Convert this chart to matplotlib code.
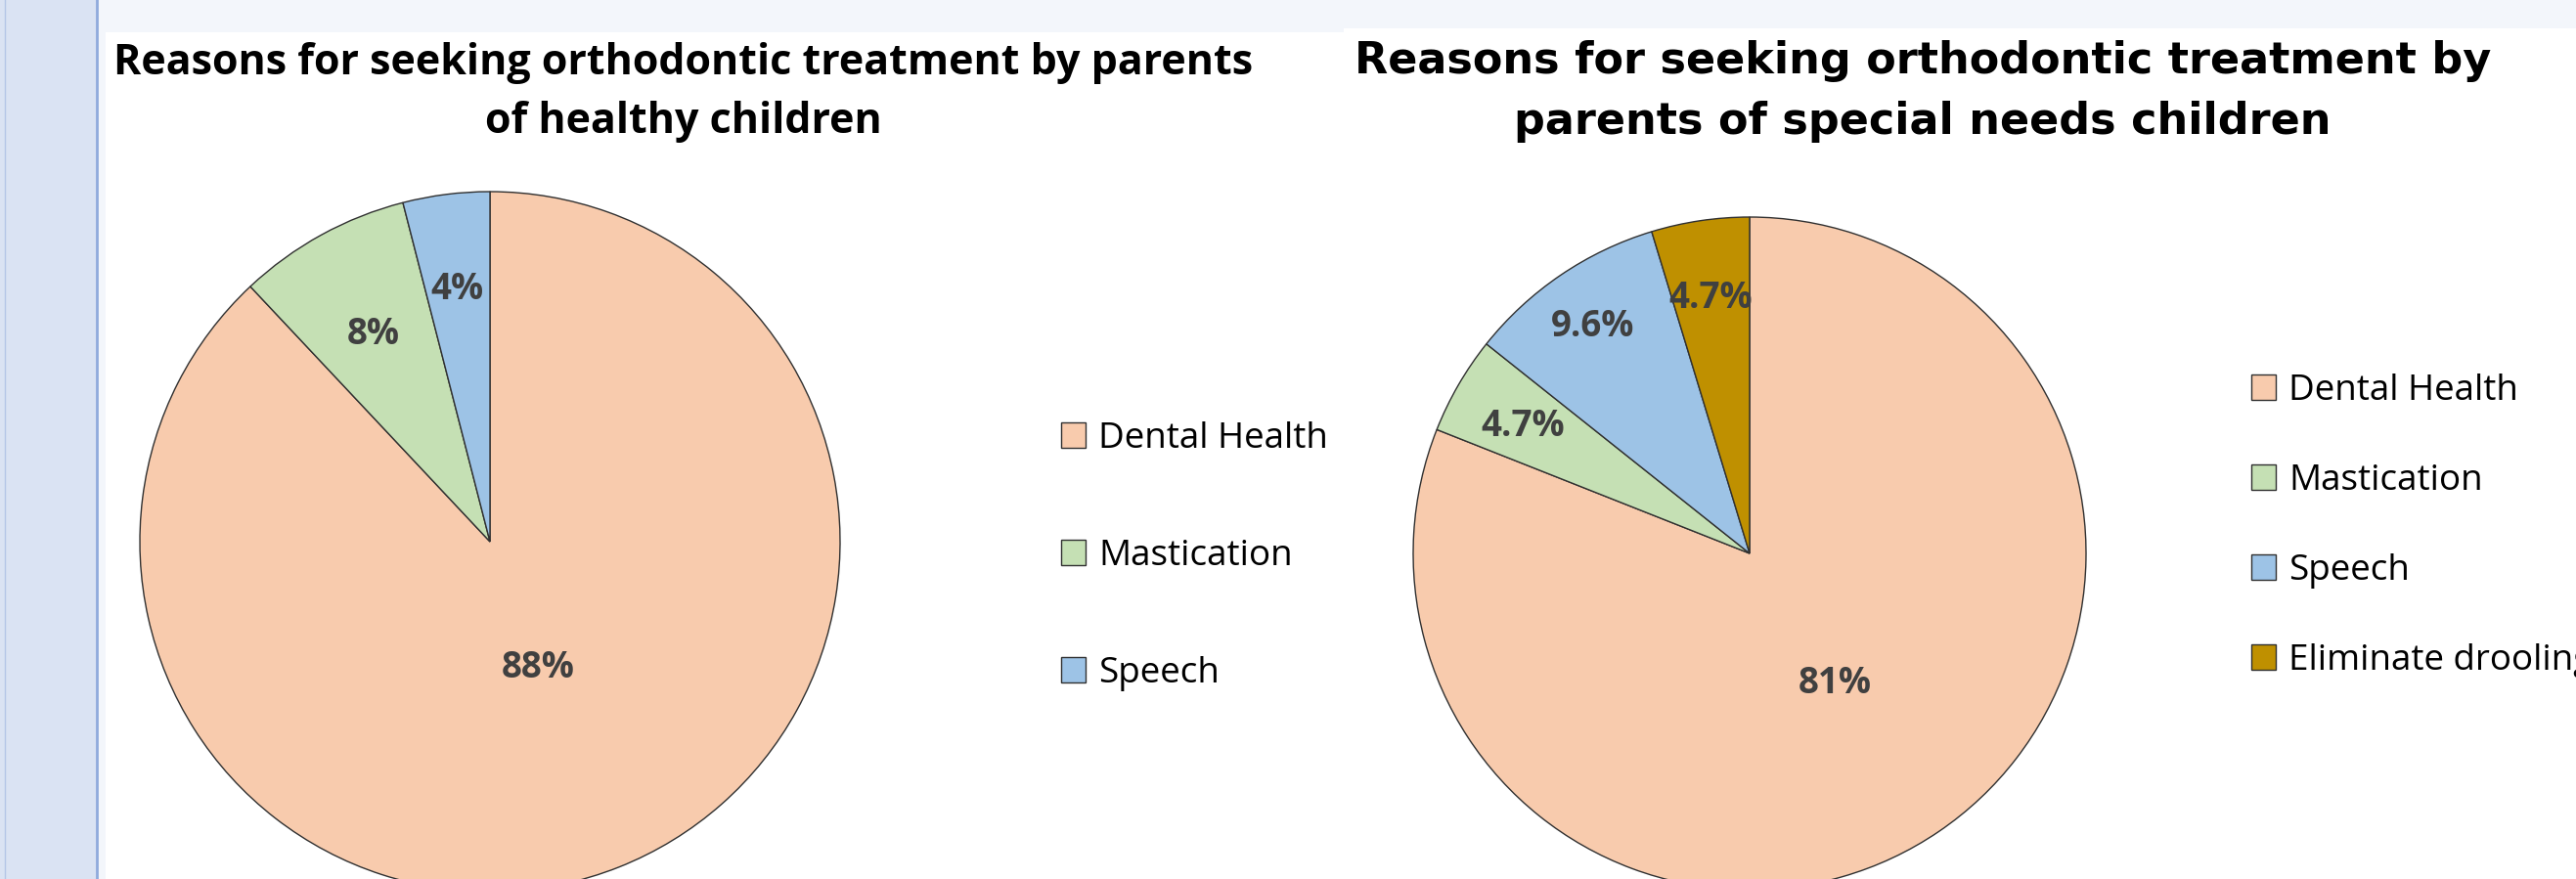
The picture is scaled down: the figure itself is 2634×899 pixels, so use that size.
import numpy as np
import matplotlib
matplotlib.use("Agg")
import matplotlib.pyplot as plt
from matplotlib.patches import Rectangle

# data
healthy_labels = ["Dental Health", "Mastication", "Speech"]
healthy_values = [88, 8, 4]
healthy_text = ["88%", "8%", "4%"]

special_labels = ["Dental Health", "Mastication", "Speech", "Eliminate drooling"]
special_values = [81, 4.7, 9.6, 4.7]
special_text = ["81%", "4.7%", "9.6%", "4.7%"]

colors = ["#f8cbad", "#c5e0b4", "#9dc3e6", "#bf9000"]

W, H = 2634, 899
fig = plt.figure(figsize=(W / 100, H / 100), dpi=100)
fig.patch.set_facecolor("white")

# window chrome: left strip and top band
fig.patches.append(Rectangle((0, 0), 100 / W, 1, transform=fig.transFigure,
                             facecolor="#dae3f3", edgecolor="none", zorder=0))
fig.patches.append(Rectangle((100 / W, 0), 8 / W, 1, transform=fig.transFigure,
                             facecolor="#f3f6fb", edgecolor="none", zorder=0))
fig.patches.append(Rectangle((100 / W, 1 - 33 / H), 1274 / W, 33 / H, transform=fig.transFigure,
                             facecolor="#f3f6fb", edgecolor="none", zorder=0))
fig.patches.append(Rectangle((1374 / W, 1 - 29 / H), 1 - 1374 / W, 29 / H, transform=fig.transFigure,
                             facecolor="#f3f6fb", edgecolor="none", zorder=0))
fig.lines.append(plt.Line2D([5 / W, 5 / W], [0, 1], transform=fig.transFigure, color="#b4c6e7", lw=1))
fig.lines.append(plt.Line2D([99 / W, 99 / W], [0, 1], transform=fig.transFigure, color="#8faadc", lw=2))


def draw_pie(cx, cy, r, values, texts, label_r, legend_names, leg_anchor, leg_spacing):
    ax = fig.add_axes([(cx - r) / W, (H - cy - r) / H, 2 * r / W, 2 * r / H])
    wedges, _ = ax.pie(values, colors=colors[:len(values)], startangle=90, counterclock=False,
                       wedgeprops=dict(edgecolor="#303030", linewidth=1.0))
    ax.set_xlim(-1, 1)
    ax.set_ylim(-1, 1)
    ax.set_aspect("equal")
    for w, t, lr in zip(wedges, texts, label_r):
        ang = np.deg2rad((w.theta1 + w.theta2) / 2)
        ax.text(lr * np.cos(ang), lr * np.sin(ang), t, ha="center", va="center_baseline",
                fontsize=26.5, fontweight="bold", color="#404040", family="Open Sans")
    fig.legend(wedges, legend_names, loc="upper left", bbox_to_anchor=leg_anchor,
               frameon=False, prop=dict(family="Open Sans", size=26.5),
               handlelength=0.68, handleheight=0.68, handletextpad=0.35,
               labelspacing=leg_spacing, borderpad=0, borderaxespad=0)
    return ax


draw_pie(501, 554, 358, healthy_values, healthy_text, [0.375, 0.69, 0.74],
         healthy_labels, (1085 / W, 1 - 431 / H), 2.28)
draw_pie(1789, 566, 344, special_values, special_text, [0.45, 0.78, 0.83, 0.78],
         special_labels, (2302 / W, 1 - 382 / H), 1.52)

fig.text(699 / W, 1 - 65 / H, "Reasons for seeking orthodontic treatment by parents",
         ha="center", va="center", fontsize=31, fontweight="bold", family="Open Sans")
fig.text(699 / W, 1 - 124 / H, "of healthy children",
         ha="center", va="center", fontsize=31, fontweight="bold", family="Open Sans")
fig.text(1966 / W, 1 - 63 / H, "Reasons for seeking orthodontic treatment by",
         ha="center", va="center", fontsize=32, fontweight="bold", family="DejaVu Sans")
fig.text(1966 / W, 1 - 124 / H, "parents of special needs children",
         ha="center", va="center", fontsize=32, fontweight="bold", family="DejaVu Sans")

fig.savefig("out.png", dpi=100)
